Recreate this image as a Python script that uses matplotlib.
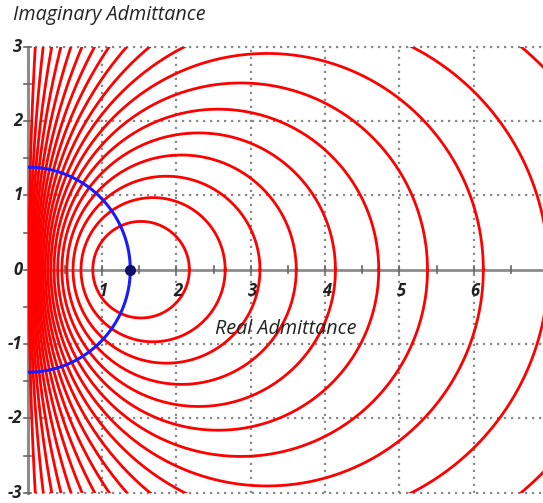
import numpy as np
import matplotlib
matplotlib.use("Agg")
import matplotlib.pyplot as plt

# Reference admittance (limit point of the circle family)
y_ref = 1.38
# Fraction of reflected power |Gamma|^2 for each constant-mismatch circle
reflected_power = [0.05, 0.10, 0.15, 0.20, 0.25, 0.30, 0.35, 0.40, 0.45, 0.50,
                   0.55, 0.60, 0.65, 0.70, 0.75, 0.80, 0.85, 0.90, 0.95]
x_ticks = [1, 2, 3, 4, 5, 6]
y_ticks = [-3, -2, -1, 0, 1, 2, 3]

FONT = "Open Sans"
W, H = 543, 503
fig = plt.figure(figsize=(W / 100, H / 100), dpi=100)

x0_px, x_right_px = 27.7, 543.0
y_top_px, y_bot_px = 46.7, 492.7
scale = (y_bot_px - y_top_px) / 6.0
xmax = (x_right_px - x0_px) / scale
ax = fig.add_axes([x0_px / W, (H - y_bot_px) / H, (x_right_px - x0_px) / W,
                   (y_bot_px - y_top_px) / H])
ax.set_xlim(0, xmax)
ax.set_ylim(-3, 3)
ax.set_aspect("equal")
ax.axis("off")

grid_kw = dict(color="#8a8a8a", lw=1.6, ls=(0, (1, 2.15)), clip_on=False, zorder=1)
for gx in x_ticks:
    ax.plot([gx, gx], [-3, 3], **grid_kw)
for gy in y_ticks:
    if gy != 0:
        ax.plot([0, xmax], [gy, gy], **grid_kw)

# Axes through the origin
axis_col = "#8c8c8c"
ax.plot([0, xmax], [0, 0], color=axis_col, lw=2, zorder=2, clip_on=False)
ax.plot([0, 0], [-3, 3], color=axis_col, lw=2.2, zorder=2, clip_on=False)
tl = 0.05
for t in np.arange(0.5, xmax, 0.5):
    ax.plot([t, t], [-tl, tl], color="#666666", lw=1.2, zorder=2)
for t in np.arange(-3, 3.01, 0.5):
    ax.plot([-tl, tl], [t, t], color="#666666", lw=1.2, zorder=2, clip_on=False)

# Constant reflected-power circles
theta = np.linspace(0, 2 * np.pi, 800)
for p in reflected_power:
    k = np.sqrt(p)
    right = y_ref * (1 + k) / (1 - k)
    left = y_ref * (1 - k) / (1 + k)
    c, r = (right + left) / 2, (right - left) / 2
    ax.plot(c + r * np.cos(theta), r * np.sin(theta), color="#ff0000", lw=2.0, zorder=3)

# Orthogonal circle through the limit point
phi = np.linspace(-np.pi / 2, np.pi / 2, 400)
ax.plot(y_ref * np.cos(phi), y_ref * np.sin(phi), color="#1a1aff", lw=2.2, zorder=4)
ax.plot([y_ref], [0], "o", color="#10106a", ms=7, zorder=5)

lab_kw = dict(fontsize=12, style="italic", family=FONT, color="#222222", weight="bold")
for t in x_ticks:
    ax.text(t + 0.02, -0.29, str(t), ha="center", va="center", **lab_kw)
for t in y_ticks:
    ax.text(-0.07, t, str(t), ha="right", va="center", clip_on=False, **lab_kw)

ax.text(3.47, -0.8, "Real Admittance", ha="center", va="center",
        fontsize=14.2, style="italic", family=FONT, color="#222222")
fig.text(13 / W, 1 - 15 / H, "Imaginary Admittance", ha="left", va="center",
         fontsize=14.2, style="italic", family=FONT, color="#222222")

fig.savefig("out.png", dpi=100)
